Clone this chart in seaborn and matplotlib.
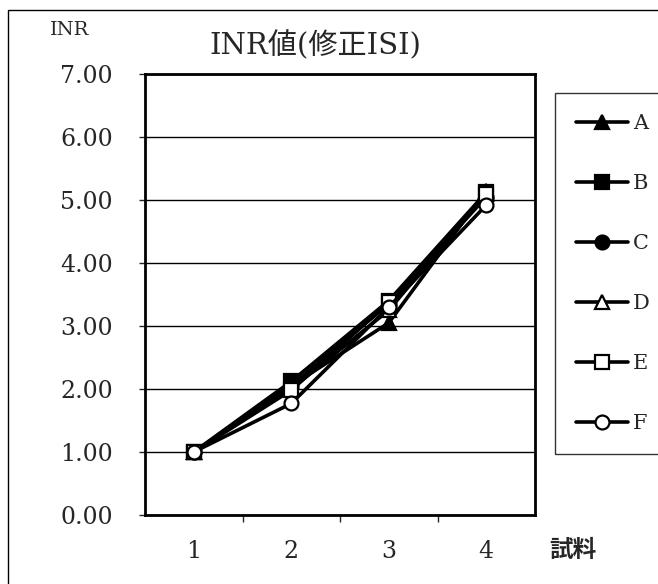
import matplotlib
matplotlib.use("Agg")
import matplotlib.pyplot as plt
import seaborn as sns
import pandas as pd
from matplotlib.patches import Rectangle

sns.set_style("white")
plt.rcParams['font.family'] = ['DejaVu Serif', 'Noto Sans CJK JP']

samples = [1, 2, 3, 4]
A = [1.00, 2.05, 3.05, 5.15]
B = [1.00, 2.12, 3.40, 5.12]
C = [1.00, 2.05, 3.35, 5.05]
D = [1.00, 2.00, 3.25, 5.10]
E = [1.00, 1.98, 3.38, 5.10]
F = [1.00, 1.77, 3.30, 4.92]
series_names = ["A", "B", "C", "D", "E", "F"]
series_values = [A, B, C, D, E, F]
yticks = [0, 1, 2, 3, 4, 5, 6, 7]

markers = {"A": "^", "B": "s", "C": "o", "D": "^", "E": "s", "F": "o"}
faces = {"A": "black", "B": "black", "C": "black", "D": "white", "E": "white", "F": "white"}

fig = plt.figure(figsize=(6.58, 5.84), dpi=100)
ax = fig.add_axes([145/658, 1-515/584, 390/658, 441/584])

for name, vals in zip(series_names, series_values):
    df = pd.DataFrame({"x": samples, "y": vals})
    sns.lineplot(data=df, x="x", y="y", ax=ax, color="black", linewidth=2.6,
                 marker=markers[name], markersize=10, markerfacecolor=faces[name],
                 markeredgecolor="black", markeredgewidth=1.6, label=name)

ax.set_xlim(0.5, 4.5)
ax.set_ylim(0, 7)
ax.set_yticks(yticks)
ax.set_yticklabels([f"{v:.2f}" for v in yticks])
ax.set_xticks(samples)
ax.set_xticklabels([str(s) for s in samples])
ax.set_xticks([1.5, 2.5, 3.5], minor=True)
ax.tick_params(axis='x', which='major', length=0, pad=18, labelsize=17)
ax.tick_params(axis='x', which='minor', length=5, width=1, direction='out', bottom=True)
ax.tick_params(axis='y', which='major', length=4, width=1, direction='out', left=True, pad=19, labelsize=17)
ax.grid(axis='y', color='black', linewidth=1)
ax.set_axisbelow(True)
for s in ax.spines.values():
    s.set_color('black')
    s.set_linewidth(2)
ax.set_xlabel("")
ax.set_ylabel("")

fig.text(70/658, 1-30/584, "INR", ha='center', va='center', fontsize=14)
fig.text(315/658, 1-46/584, "INR値(修正ISI)", ha='center', va='center', fontsize=21)
fig.text(573/658, 1-550/584, "試料", ha='center', va='center', fontsize=17,
         family=['Noto Sans CJK JP'], weight='bold')

leg = ax.legend(loc='upper left', bbox_to_anchor=(555/658, 1-93/584), bbox_transform=fig.transFigure,
                frameon=True, fancybox=False, edgecolor='black', fontsize=15,
                labelspacing=1.97, handlelength=2.5, handletextpad=0.25, borderpad=1.0,
                borderaxespad=0)
leg.get_frame().set_linewidth(1)

fig.patches.append(Rectangle((8/658, -0.1), 1.2, 1-10/584+0.1, transform=fig.transFigure,
                             fill=False, edgecolor='black', linewidth=1, figure=fig))

fig.savefig("out.png", dpi=100)
